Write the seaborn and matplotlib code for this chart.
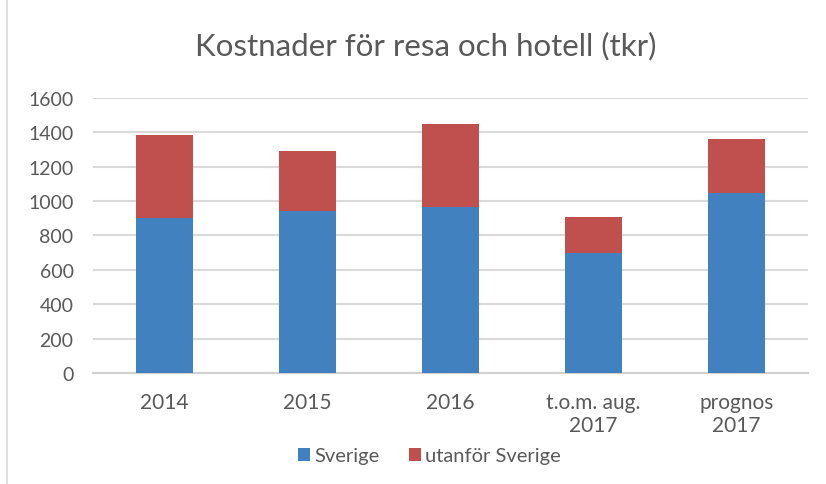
import matplotlib
matplotlib.use("Agg")
import matplotlib.pyplot as plt
import seaborn as sns
import pandas as pd
import numpy as np
from matplotlib.patches import Patch
from matplotlib.lines import Line2D

categories = ["2014", "2015", "2016", "t.o.m. aug.\n2017", "prognos\n2017"]
sverige = [900, 945, 965, 700, 1045]
utanfor = [485, 345, 485, 205, 315]
yticks = [0, 200, 400, 600, 800, 1000, 1200, 1400, 1600]

blue = "#4181C0"
red = "#C0504D"
text_color = "#595959"
grid_color = "#D9D9D9"

sns.set_theme(style="white")
plt.rcParams["font.family"] = ["Lato", "DejaVu Sans"]

df = pd.DataFrame({"kat": categories, "Sverige": sverige, "utanfor": utanfor})
df["total"] = df["Sverige"] + df["utanfor"]

fig = plt.figure(figsize=(8.26, 4.85), dpi=100)
ax = fig.add_axes([0.1126, 0.229, 0.978 - 0.1126, 0.796 - 0.229])

sns.barplot(data=df, x="kat", y="total", color=red, saturation=1, width=0.4,
            ax=ax, zorder=3, linewidth=0)
sns.barplot(data=df, x="kat", y="Sverige", color=blue, saturation=1, width=0.4,
            ax=ax, zorder=4, linewidth=0)

ax.set_ylim(0, 1600)
ax.set_xlim(-0.5, len(categories) - 0.5)
ax.set_yticks(yticks)
ax.set_yticklabels([str(t) for t in yticks])
ax.yaxis.grid(True, color=grid_color, linewidth=1.5, zorder=0)
ax.set_axisbelow(True)
for s in ["top", "right", "left"]:
    ax.spines[s].set_visible(False)
ax.spines["bottom"].set_color("#D0D0D0")
ax.spines["bottom"].set_linewidth(1.5)
ax.set_xlabel("")
ax.set_ylabel("")
ax.tick_params(axis="both", length=0, labelsize=14, colors=text_color)
ax.tick_params(axis="x", labelsize=15, pad=14)
ax.tick_params(axis="y", pad=14)
for lab in ax.get_xticklabels():
    lab.set_linespacing(1.15)

fig.text(0.515, 0.905, "Kostnader för resa och hotell (tkr)", ha="center", va="center",
         fontsize=22.5, color=text_color)

handles = [Patch(facecolor=blue, edgecolor="none", label="Sverige"),
           Patch(facecolor=red, edgecolor="none", label="utanför Sverige")]
fig.legend(handles=handles, loc="center", bbox_to_anchor=(0.52, 0.058), ncol=2,
           frameon=False, fontsize=14.5, handlelength=0.6, handleheight=0.6,
           handletextpad=0.2, columnspacing=1.5, labelcolor=text_color)

fig.add_artist(Line2D([0.0085, 0.0085], [0, 1], transform=fig.transFigure,
                      color="#D9D9D9", linewidth=1.2))

fig.savefig("out.png", dpi=100, facecolor="white")
